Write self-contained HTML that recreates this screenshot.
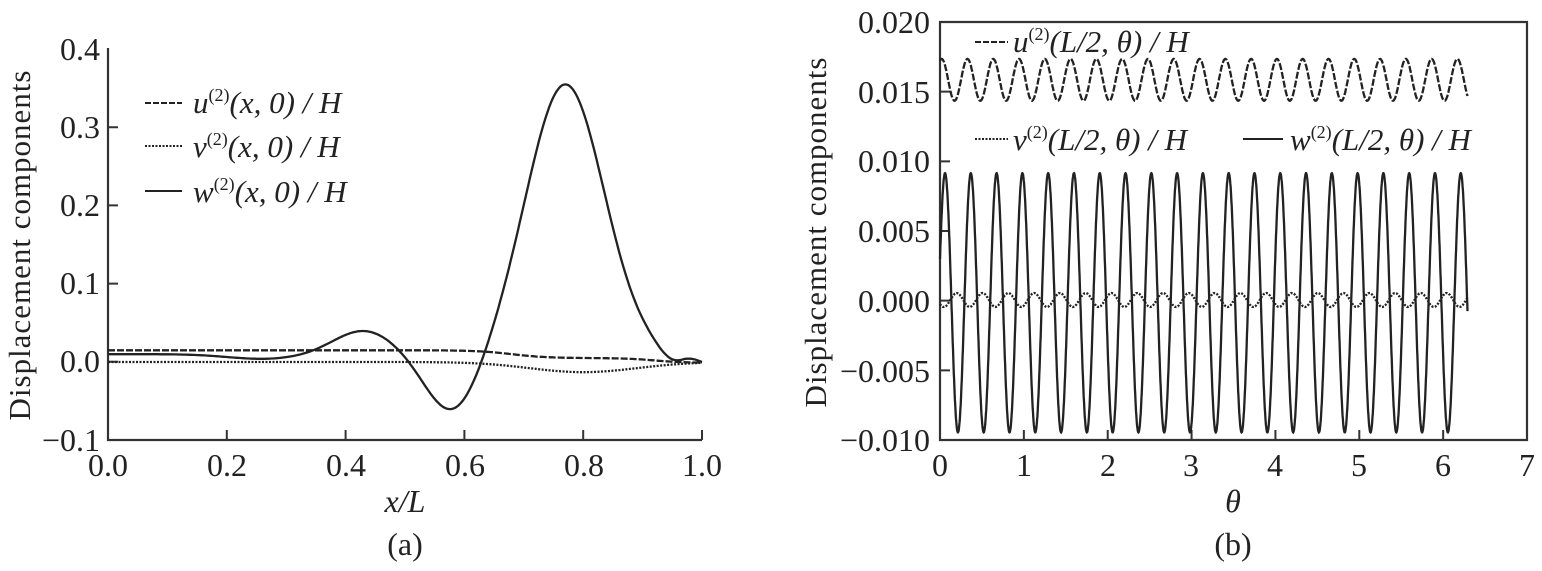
<!DOCTYPE html>
<html><head><meta charset="utf-8"><style>
body{margin:0;background:#fff}
svg text{font-family:"Liberation Serif",serif;fill:#222}
</style></head><body>
<svg id="s" width="1542" height="566" xmlns="http://www.w3.org/2000/svg">
<g stroke="#333" stroke-width="2.2" fill="none">
<path d="M108 48 V440 H702"/>
<path d="M940 22 H1527 V440 H940 Z"/>
</g>
<g id="ticks" stroke="#333" stroke-width="2"></g>
<g font-size="32" text-anchor="end">
<text x="100" y="60">0.4</text><text x="100" y="138">0.3</text><text x="100" y="216">0.2</text>
<text x="100" y="294">0.1</text><text x="100" y="372">0.0</text><text x="100" y="451">−0.1</text>
<text x="930" y="33">0.020</text><text x="930" y="103">0.015</text><text x="930" y="172">0.010</text>
<text x="930" y="242">0.005</text><text x="930" y="312">0.000</text><text x="930" y="382">−0.005</text><text x="930" y="451">−0.010</text>
</g>
<g font-size="32" text-anchor="middle">
<text x="108" y="476">0.0</text><text x="227" y="476">0.2</text><text x="346" y="476">0.4</text>
<text x="465" y="476">0.6</text><text x="584" y="476">0.8</text><text x="702" y="476">1.0</text>
<text x="940" y="476">0</text><text x="1024" y="476">1</text><text x="1108" y="476">2</text><text x="1191" y="476">3</text>
<text x="1275" y="476">4</text><text x="1359" y="476">5</text><text x="1443" y="476">6</text><text x="1527" y="476">7</text>
<text x="405" y="512" font-style="italic">x/L</text><text x="405" y="555">(a)</text>
<text x="1233" y="512" font-style="italic">θ</text><text x="1233" y="555">(b)</text>
</g>
<text font-size="31" letter-spacing="1" transform="translate(30 245) rotate(-90)" text-anchor="middle">Displacement components</text>
<text font-size="31" letter-spacing="1" transform="translate(826 232) rotate(-90)" text-anchor="middle">Displacement components</text>
<g font-size="31" font-style="italic">
<text x="193" y="113">u<tspan font-size="18" dy="-12" font-style="normal">(2)</tspan><tspan dy="12">(x, 0) / H</tspan></text>
<text x="193" y="157">v<tspan font-size="18" dy="-12" font-style="normal">(2)</tspan><tspan dy="12">(x, 0) / H</tspan></text>
<text x="193" y="202">w<tspan font-size="18" dy="-12" font-style="normal">(2)</tspan><tspan dy="12">(x, 0) / H</tspan></text>
<text x="1013" y="52">u<tspan font-size="18" dy="-12" font-style="normal">(2)</tspan><tspan dy="12">(L/2, θ) / H</tspan></text>
<text x="1013" y="150">v<tspan font-size="18" dy="-12" font-style="normal">(2)</tspan><tspan dy="12">(L/2, θ) / H</tspan></text>
<text x="1290" y="150">w<tspan font-size="18" dy="-12" font-style="normal">(2)</tspan><tspan dy="12">(L/2, θ) / H</tspan></text>
</g>
<g stroke="#222" stroke-width="2">
<path d="M145 103 H182" stroke-dasharray="6 2"/>
<path d="M145 146 H182" stroke-dasharray="2 1.5"/>
<path d="M145 191 H182"/>
<path d="M975 42 H1008" stroke-dasharray="6 2"/>
<path d="M975 139 H1008" stroke-dasharray="2 1.5"/>
<path d="M1243 139 H1283"/>
</g>
<g id="curves" fill="none" stroke="#222" stroke-width="2.3"></g>
</svg>
<script>
var ns="http://www.w3.org/2000/svg";
function P(d,dash,par){var p=document.createElementNS(ns,"path");p.setAttribute("d",d);if(dash)p.setAttribute("stroke-dasharray",dash);document.getElementById(par||"curves").appendChild(p);}
var t="";
for(var i=1;i<6;i++){var x=108+i*118.8;t+="M"+x+" 440 V430 ";}
for(var i=1;i<5;i++){var y=440-i*78.2;t+="M108 "+y+" H118 ";}
for(var i=1;i<7;i++){var x=940+i*83.86;t+="M"+x+" 440 V430 ";}
for(var i=1;i<6;i++){var y=440-i*69.67;t+="M940 "+y+" H950 ";}
P(t,null,"ticks");
function X1(x){return 108+x*594}function Y1(v){return 362-v*782}
function g(x,m,s){return Math.exp(-(x-m)*(x-m)/(2*s*s))}
function w(x){return 0.01-0.006*g(x,0.26,0.06)+0.03*g(x,0.43,0.05)-0.075*g(x,0.58,0.045)+0.345*g(x,0.77,0.065)-0.014*g(x,0.95,0.022)}
function u(x){return 0.015-0.01*(1/(1+Math.exp(-(x-0.68)/0.03)))-0.006*(1/(1+Math.exp(-(x-0.92)/0.025)))}
function v(x){return -0.013*g(x,0.8,0.09)}
var a="",b="",c="";
for(var k=0;k<=400;k++){var x=k/400;var ww=w(x);if(x>0.97)ww*= (1-x)/0.03;
a+=(k?"L":"M")+X1(x).toFixed(1)+" "+Y1(ww).toFixed(1);
b+=(k?"L":"M")+X1(x).toFixed(1)+" "+Y1(u(x)).toFixed(1);
c+=(k?"L":"M")+X1(x).toFixed(1)+" "+Y1(v(x)).toFixed(1);}
P(a);P(b,"7 2");P(c,"2 1.5");
function X2(t){return 940+t*83.86}function Y2(v){return 300-v*13934}
a="";b="";c="";var om=2*Math.PI/0.3075;
for(var k=0;k<=2400;k++){var th=k/2400*6.29;
var wv=-0.0002+0.0093*Math.cos(om*(th-0.06));
var uv=0.0158+0.0015*Math.cos(om*(th-0.02));
var vv=0.0005*Math.cos(om*(th-0.2));
a+=(k?"L":"M")+X2(th).toFixed(1)+" "+Y2(wv).toFixed(1);
b+=(k?"L":"M")+X2(th).toFixed(1)+" "+Y2(uv).toFixed(1);
c+=(k?"L":"M")+X2(th).toFixed(1)+" "+Y2(vv).toFixed(1);}
P(a);P(b,"7 2");P(c,"2 1.5");
</script>
</body></html>
